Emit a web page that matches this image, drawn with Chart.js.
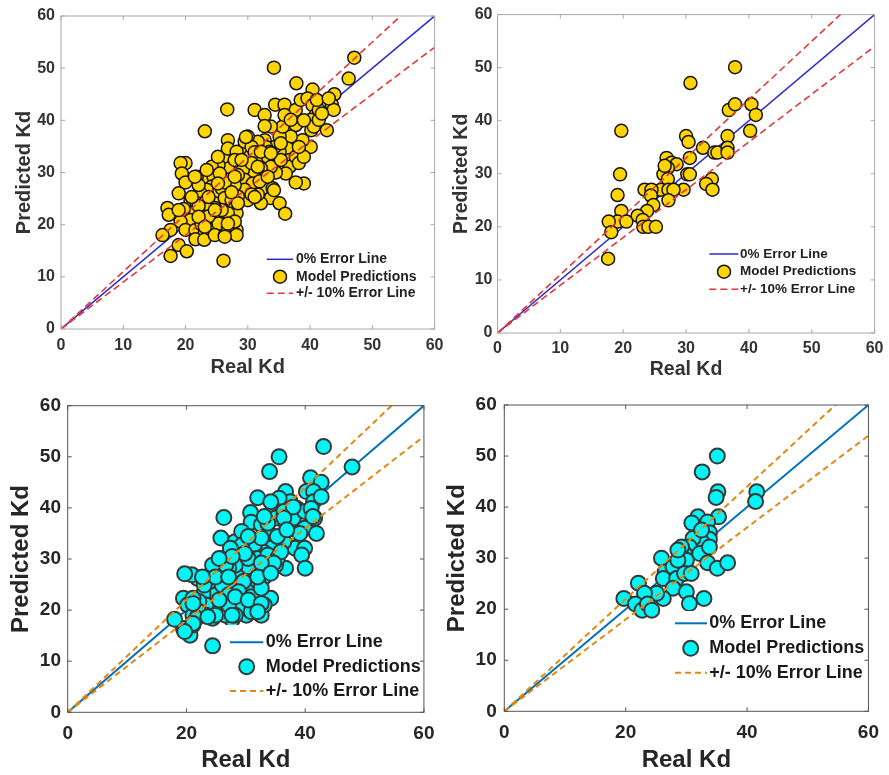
<!DOCTYPE html>
<html>
<head>
<meta charset="utf-8">
<title>Real vs Predicted Kd</title>
<script src="https://cdn.jsdelivr.net/npm/chart.js@4.4.0/dist/chart.umd.min.js"></script>
<style>
  body { margin: 0; background: #fff; }
  #figure { position: relative; width: 889px; height: 775px; overflow: hidden; }
  #figure canvas { position: absolute; }
</style>
</head>
<body>
<div id="figure">
  <canvas id="chartA" width="450" height="385" style="left:0px;top:0px"></canvas>
  <canvas id="chartB" width="449" height="385" style="left:440px;top:0px"></canvas>
  <canvas id="chartC" width="445" height="390" style="left:0px;top:385px"></canvas>
  <canvas id="chartD" width="449" height="390" style="left:440px;top:385px"></canvas>
</div>
<script>
// axis ticks
const xTicksFine = [0, 10, 20, 30, 40, 50, 60];
const xTicksCoarse = [0, 20, 40, 60];
const yTicks = [0, 10, 20, 30, 40, 50, 60];

// reference lines: y = x and +/- 10 %
const errorLineX = [0, 60];
const zeroLineY = [0, 60];
const upperLineY = [0, 66];
const lowerLineY = [0, 54];

// top left
const realKdA = [
  47.1, 46.2, 34.2, 37.8, 40.4, 43.9, 43.5, 43.8, 42.7, 26.7,
  23.1, 31.1, 32.7, 34.4, 35.9, 37.7, 38.5, 39.6, 40.4, 40.9,
  41.4, 40.1, 40.2, 40.1, 38.8, 37.7, 36.9, 36.4, 36.7, 36.7,
  37.7, 38.2, 39.0, 39.0, 37.7, 36.1, 34.5, 35.1, 34.3, 35.1,
  35.6, 33.7, 32.7, 32.7, 32.9, 31.6, 30.0, 29.8, 29.2, 30.3,
  31.6, 33.2, 33.7, 32.1, 31.0, 29.2, 29.5, 30.8, 32.4, 34.0,
  33.7, 35.1, 36.0, 32.1, 31.6, 30.0, 29.5, 28.4, 27.9, 27.6,
  26.8, 26.8, 26.1, 25.3, 26.8, 28.2, 27.9, 29.5, 24.2, 23.1,
  24.5, 24.2, 25.0, 23.4, 22.4, 21.8, 20.0, 19.2, 19.4, 20.0,
  18.9, 20.8, 21.8, 23.4, 24.7, 25.8, 26.3, 27.4, 27.9, 28.2,
  26.8, 25.8, 24.7, 23.7, 22.6, 21.0, 19.7, 20.8, 19.2, 20.0,
  21.6, 22.6, 23.1, 21.6, 23.0, 24.2, 25.3, 24.7, 26.3, 26.8,
  28.2, 28.2, 27.9, 17.6, 16.3, 17.1, 17.3, 18.9, 20.2, 17.6,
  26.1, 30.6, 31.1, 35.9, 36.9, 30.6, 29.0, 26.3, 27.4, 30.6,
  31.9, 33.2, 28.4, 25.5, 22.1, 23.7, 22.1, 40.6, 41.4, 41.9,
  41.1, 38.2, 35.3, 33.5, 32.1, 21.5, 23.4, 25.2, 29.7, 43.0,
  39.0, 35.3, 33.7, 31.6, 27.9, 25.2, 23.7, 21.0, 18.9, 22.1,
  24.7, 26.8, 28.4, 31.1, 34.2, 23.1, 26.3
];
const predKdA = [
  52.0, 48.0, 50.1, 47.1, 45.9, 45.0, 43.0, 42.0, 38.1, 42.1,
  37.9, 42.0, 41.0, 43.0, 43.0, 42.0, 43.9, 44.2, 42.9, 41.0,
  42.0, 40.1, 38.1, 34.9, 36.2, 39.1, 36.9, 34.6, 32.4, 31.1,
  33.0, 31.8, 33.0, 27.9, 28.1, 29.8, 30.0, 34.0, 34.9, 36.9,
  38.8, 38.8, 38.9, 36.2, 34.9, 35.9, 36.9, 34.9, 34.0, 33.0,
  32.5, 33.0, 31.1, 30.8, 30.2, 30.5, 28.6, 27.9, 27.0, 27.0,
  25.1, 24.1, 22.1, 24.1, 25.8, 24.7, 26.7, 25.4, 27.6, 29.8,
  31.1, 36.2, 33.0, 31.4, 34.6, 34.0, 32.4, 35.9, 31.1, 29.2,
  29.2, 27.3, 26.0, 26.7, 26.0, 29.2, 31.8, 31.8, 29.8, 28.1,
  26.0, 24.7, 24.1, 24.7, 24.1, 27.0, 25.1, 24.7, 23.2, 22.2,
  22.2, 22.8, 23.2, 23.0, 21.6, 22.2, 23.0, 20.9, 20.6, 19.0,
  19.0, 20.0, 18.4, 17.2, 17.1, 19.0, 20.2, 18.0, 18.0, 19.6,
  19.0, 18.0, 20.6, 19.0, 18.0, 23.2, 21.9, 16.1, 14.9, 14.0,
  13.1, 34.9, 33.9, 41.0, 40.1, 31.8, 32.4, 28.1, 26.2, 25.8,
  28.3, 29.2, 29.5, 29.8, 27.6, 21.6, 23.6, 38.8, 40.1, 41.3,
  43.9, 34.9, 32.4, 34.0, 34.0, 29.2, 30.5, 33.0, 36.8, 44.2,
  40.0, 35.6, 33.7, 31.1, 29.2, 27.9, 25.3, 25.3, 22.8, 21.5,
  22.8, 20.2, 24.1, 25.3, 26.6, 19.6, 17.7
];

// top right
const realKdB = [
  37.8, 30.7, 19.7, 36.8, 37.8, 40.4, 41.1, 40.2, 30.0, 30.4,
  36.6, 32.7, 34.5, 35.0, 36.6, 36.6, 30.6, 26.9, 27.7, 28.5,
  27.1, 26.4, 30.2, 30.6, 19.5, 27.1, 34.1, 33.2, 34.2, 29.6,
  26.0, 27.2, 28.0, 23.4, 24.5, 24.4, 27.2, 24.8, 19.1, 19.7,
  23.8, 22.3, 23.1, 19.1, 20.5, 17.7, 18.1, 23.2, 24.0, 25.2,
  17.6, 26.6
];
const predKdB = [
  50.1, 47.1, 38.1, 42.0, 43.1, 43.1, 41.1, 38.1, 37.1, 36.0,
  37.1, 34.9, 34.0, 34.0, 34.9, 34.0, 33.0, 33.0, 32.1, 31.8,
  31.1, 29.9, 29.9, 29.9, 29.9, 29.0, 29.0, 28.1, 27.0, 27.0,
  27.0, 27.0, 27.0, 27.0, 27.0, 25.9, 25.0, 24.1, 26.0, 23.0,
  23.0, 22.1, 21.3, 21.0, 21.0, 21.0, 19.0, 20.0, 20.0, 20.0,
  14.0, 31.5
];

// bottom left
const realKdC = [
  43.1, 47.9, 35.6, 34.0, 40.9, 42.7, 36.7, 32.0, 40.2, 41.4,
  41.4, 42.7, 38.6, 37.5, 35.6, 34.8, 34.2, 35.0, 41.6, 26.3,
  30.8, 30.9, 32.6, 33.9, 36.9, 38.3, 39.9, 41.9, 38.3, 39.9,
  39.4, 40.0, 36.4, 36.7, 35.0, 34.2, 32.3, 32.9, 33.1, 31.8,
  34.2, 32.3, 32.6, 30.1, 30.1, 27.9, 27.7, 26.0, 24.4, 23.9,
  24.9, 22.8, 21.9, 20.9, 19.7, 19.5, 20.2, 21.1, 19.5, 20.6,
  21.1, 18.0, 24.4, 25.8, 25.9, 27.4, 29.3, 30.4, 29.9, 28.2,
  30.7, 31.5, 27.1, 28.2, 30.4, 32.0, 24.9, 23.9, 26.0, 23.3,
  22.1, 27.1, 29.3, 29.3, 30.9, 26.6, 28.2, 24.9, 23.3, 22.1,
  21.7, 33.7, 35.3, 32.6, 29.3, 32.0, 33.7, 28.2, 27.1, 29.6,
  27.1, 30.4, 38.0, 39.9, 41.0, 36.4, 35.3, 35.9, 29.3, 27.4,
  26.6, 24.4, 23.0, 21.1, 28.8, 30.9, 32.6, 33.1, 34.2, 38.0,
  33.1, 36.4, 41.3, 30.4, 39.1, 36.9, 34.7, 32.6, 29.8, 27.7,
  25.5, 24.9, 22.7, 27.1, 32.0, 34.2, 25.5, 28.2, 30.4, 32.6,
  21.1, 27.7, 32.0, 23.6, 21.1, 19.7
];
const predKdC = [
  52.0, 48.0, 50.0, 47.1, 45.9, 45.0, 43.2, 42.0, 43.2, 43.2,
  41.2, 42.2, 39.9, 41.2, 41.9, 39.6, 38.6, 38.0, 38.0, 38.1,
  39.1, 37.2, 36.7, 35.0, 36.3, 35.0, 36.0, 35.0, 32.1, 32.1,
  30.8, 28.2, 33.4, 28.2, 28.8, 32.1, 29.2, 31.4, 26.5, 23.9,
  22.3, 21.0, 19.0, 19.0, 22.3, 22.0, 18.1, 20.0, 18.4, 23.6,
  23.0, 23.1, 26.2, 26.9, 27.1, 22.3, 21.0, 19.0, 16.4, 15.1,
  17.1, 18.2, 13.0, 34.1, 30.1, 25.9, 27.2, 28.5, 31.1, 33.4,
  34.1, 32.9, 30.8, 24.9, 24.9, 25.6, 27.5, 25.6, 24.9, 21.0,
  21.7, 23.0, 22.3, 20.4, 19.7, 19.0, 19.0, 19.0, 19.0, 19.7,
  18.4, 37.0, 34.4, 34.1, 35.4, 30.1, 30.8, 28.8, 28.2, 25.6,
  21.0, 30.1, 38.0, 39.3, 39.9, 39.3, 30.1, 31.4, 32.7, 32.1,
  28.8, 28.8, 24.9, 22.3, 23.6, 22.6, 24.3, 21.0, 41.2, 40.2,
  38.3, 38.0, 38.3, 34.4, 35.0, 35.7, 29.2, 29.2, 31.1, 30.5,
  30.1, 26.5, 26.5, 26.5, 26.5, 27.2, 22.0, 22.6, 22.0, 21.3,
  21.3, 19.0, 19.7, 18.7, 17.4, 15.8
];

// bottom right
const realKdD = [
  35.1, 32.6, 35.2, 34.9, 41.6, 41.4, 35.3, 31.9, 30.9, 33.5,
  33.8, 33.8, 32.5, 31.1, 30.5, 29.7, 30.0, 32.2, 33.8, 33.5,
  35.1, 36.8, 25.9, 26.5, 26.2, 27.8, 28.4, 29.7, 30.8, 27.8,
  30.0, 30.5, 32.9, 26.2, 25.1, 22.1, 23.1, 19.7, 21.6, 22.7,
  23.6, 24.3, 29.2, 32.5, 28.6, 28.6
];
const predKdD = [
  50.0, 46.9, 43.0, 41.9, 43.0, 41.1, 38.1, 38.1, 36.9, 37.1,
  35.0, 33.7, 33.2, 33.9, 32.2, 30.9, 29.6, 30.9, 32.2, 29.1,
  28.0, 29.1, 30.0, 27.3, 26.0, 28.3, 26.0, 27.0, 27.0, 24.1,
  23.4, 21.1, 22.1, 22.1, 23.1, 25.1, 23.1, 22.1, 21.0, 19.8,
  21.0, 19.8, 32.2, 35.5, 29.6, 31.6
];

const FONT = "'Liberation Sans', Arial, sans-serif";
Chart.defaults.font.family = FONT;

// legend drawn inside the plot area, on a white patch
const insetLegend = {
  id: 'insetLegend',
  afterDatasetsDraw(chart, args, o) {
    const ctx = chart.ctx;
    const ds = chart.data.datasets;
    ctx.save();
    ctx.fillStyle = '#fff';
    ctx.fillRect(o.box[0], o.box[1], o.box[2] - o.box[0], o.box[3] - o.box[1]);
    ctx.font = o.font;
    ctx.textBaseline = 'middle';
    ctx.textAlign = 'left';
    [0, 1, 2].forEach((idx, row) => {
      const d = ds[idx];
      const y = o.rows[row];
      if (d.showLine) {
        ctx.beginPath();
        ctx.setLineDash(d.borderDash || []);
        ctx.lineWidth = d.borderWidth;
        ctx.strokeStyle = d.borderColor;
        ctx.moveTo(o.x0, y);
        ctx.lineTo(o.x1, y);
        ctx.stroke();
        ctx.setLineDash([]);
      } else {
        ctx.beginPath();
        ctx.arc(o.markerX, y, d.pointRadius, 0, Math.PI * 2);
        ctx.fillStyle = d.pointBackgroundColor;
        ctx.fill();
        ctx.lineWidth = d.pointBorderWidth;
        ctx.strokeStyle = d.pointBorderColor;
        ctx.stroke();
      }
      ctx.fillStyle = o.color;
      ctx.fillText(d.label, o.textX, y);
    });
    ctx.restore();
  }
};

// box around the axes with inward tick marks on all four sides
const axesBox = {
  id: 'axesBox',
  afterDraw(chart, args, o) {
    const { ctx, chartArea: a, scales: { x, y } } = chart;
    ctx.save();
    ctx.strokeStyle = o.color;
    ctx.lineWidth = o.width;
    ctx.strokeRect(a.left, a.top, a.right - a.left, a.bottom - a.top);
    ctx.beginPath();
    x.ticks.forEach(t => {
      const px = x.getPixelForValue(t.value);
      ctx.moveTo(px, a.bottom); ctx.lineTo(px, a.bottom - o.len);
      ctx.moveTo(px, a.top); ctx.lineTo(px, a.top + o.len);
    });
    y.ticks.forEach(t => {
      const py = y.getPixelForValue(t.value);
      ctx.moveTo(a.left, py); ctx.lineTo(a.left + o.len, py);
      ctx.moveTo(a.right, py); ctx.lineTo(a.right - o.len, py);
    });
    ctx.stroke();
    ctx.restore();
  }
};

Chart.register(insetLegend, axesBox);

function makePanel(id, p) {
  const line = ys => errorLineX.map((v, i) => ({ x: v, y: ys[i] }));
  const points = p.real.map((v, i) => ({ x: v, y: p.pred[i] }));
  const tickFont = { family: FONT, size: p.tickSize, weight: 'bold' };
  const titleFont = { family: FONT, size: p.titleSize, weight: 'bold' };

  return new Chart(document.getElementById(id), {
    type: 'scatter',
    data: {
      datasets: [
        { label: '0% Error Line', data: line(zeroLineY), showLine: true,
          borderColor: p.lineColor, borderWidth: p.lineWidth, pointRadius: 0, order: 3 },
        { label: 'Model Predictions', data: points, pointRadius: p.radius,
          pointBackgroundColor: p.fill, pointBorderColor: p.edge, pointBorderWidth: p.edgeWidth, order: 2 },
        { label: '+/- 10% Error Line', data: line(upperLineY), showLine: true,
          borderColor: p.dashColor, borderDash: p.dash, borderWidth: p.dashWidth, pointRadius: 0, order: 1 },
        { label: '-10% Error Line', data: line(lowerLineY), showLine: true,
          borderColor: p.dashColor, borderDash: p.dash, borderWidth: p.dashWidth, pointRadius: 0, order: 1 }
      ]
    },
    options: {
      responsive: false,
      animation: false,
      events: [],
      layout: { padding: p.pad },
      plugins: {
        legend: { display: false },
        tooltip: { enabled: false },
        insetLegend: p.legend,
        axesBox: { color: p.frame, width: 1, len: 4 }
      },
      scales: {
        x: {
          type: 'linear', min: 0, max: 60,
          grid: { display: false, drawTicks: false }, border: { display: false },
          afterBuildTicks: s => { s.ticks = p.xTicks.map(v => ({ value: v })); },
          afterFit: s => { s.height = p.xHeight; },
          ticks: { color: p.textColor, font: tickFont, padding: p.xTickPad, maxRotation: 0, autoSkip: false },
          title: { display: true, text: 'Real Kd', color: p.textColor, font: titleFont,
                   padding: { top: 0, bottom: p.xTitlePad } }
        },
        y: {
          type: 'linear', min: 0, max: 60,
          grid: { display: false, drawTicks: false }, border: { display: false },
          afterBuildTicks: s => { s.ticks = yTicks.map(v => ({ value: v })); },
          afterFit: s => { s.width = p.yWidth; },
          ticks: { color: p.textColor, font: tickFont, padding: p.yTickPad, autoSkip: false },
          title: { display: true, text: 'Predicted Kd', color: p.textColor, font: titleFont,
                   padding: { top: p.yTitlePad, bottom: 0 } }
        }
      }
    }
  });
}

const goldStyle = {
  lineColor: '#2b2bcc', lineWidth: 1.5,
  dashColor: '#e03a3a', dashWidth: 1.6, dash: [7, 4],
  fill: '#ffd400', edge: '#141414', edgeWidth: 1.5, radius: 6.5,
  frame: '#a8a8a8', textColor: '#333333',
  xTicks: xTicksFine, tickSize: 16
};

const cyanStyle = {
  lineColor: '#0072bd', lineWidth: 2,
  dashColor: '#e08a14', dashWidth: 2, dash: [6, 4],
  fill: '#00f6f6', edge: '#383838', edgeWidth: 2, radius: 7.5,
  frame: '#555555', textColor: '#262626',
  xTicks: xTicksCoarse, tickSize: 19, titleSize: 24
};

makePanel('chartA', Object.assign({}, goldStyle, {
  real: realKdA, pred: predKdA, titleSize: 20,
  pad: { left: 0, right: 11, top: 16, bottom: 0 },
  yWidth: 61, xHeight: 56, xTickPad: 6.5, yTickPad: 6, xTitlePad: 6, yTitlePad: 12,
  legend: { box: [258, 247, 432, 303], rows: [259.3, 276.7, 293.3], x0: 266.7, x1: 293,
            markerX: 280, textX: 296, font: 'bold 14px ' + FONT, color: '#222' }
}));

makePanel('chartB', Object.assign({}, goldStyle, {
  real: realKdB, pred: predKdB, titleSize: 19.5,
  pad: { left: 0, right: 10, top: 10, bottom: 0 },
  yWidth: 57.5, xHeight: 52, xTickPad: 5.5, yTickPad: 5, xTitlePad: 4, yTitlePad: 9.7,
  legend: { box: [261, 243, 434, 299], rows: [254, 271.7, 289.3], x0: 269.3, x1: 298.3,
            markerX: 284, textX: 300, font: 'bold 13.5px ' + FONT, color: '#222' }
}));

makePanel('chartC', Object.assign({}, cyanStyle, {
  real: realKdC, pred: predKdC,
  pad: { left: 0, right: 11, top: 20.7, bottom: 0 },
  yWidth: 67.7, xHeight: 62.7, xTickPad: 10.5, yTickPad: 6.7, xTitlePad: 0, yTitlePad: 6.6,
  legend: { box: [222, 240, 431, 318], rows: [257.3, 281.7, 306], x0: 230, x1: 263.3,
            markerX: 246.7, textX: 265.7, font: 'bold 18px ' + FONT, color: '#1a1a1a' }
}));

makePanel('chartD', Object.assign({}, cyanStyle, {
  real: realKdD, pred: predKdD,
  pad: { left: 0, right: 16.7, top: 20, bottom: 0 },
  yWidth: 64.3, xHeight: 63.7, xTickPad: 10, yTickPad: 7.6, xTitlePad: 0.6, yTitlePad: 3.1,
  legend: { box: [227, 226, 430, 300], rows: [238.3, 263.3, 287.7], x0: 235, x1: 267,
            markerX: 250.7, textX: 269.3, font: 'bold 18px ' + FONT, color: '#1a1a1a' }
}));
</script>
</body>
</html>
